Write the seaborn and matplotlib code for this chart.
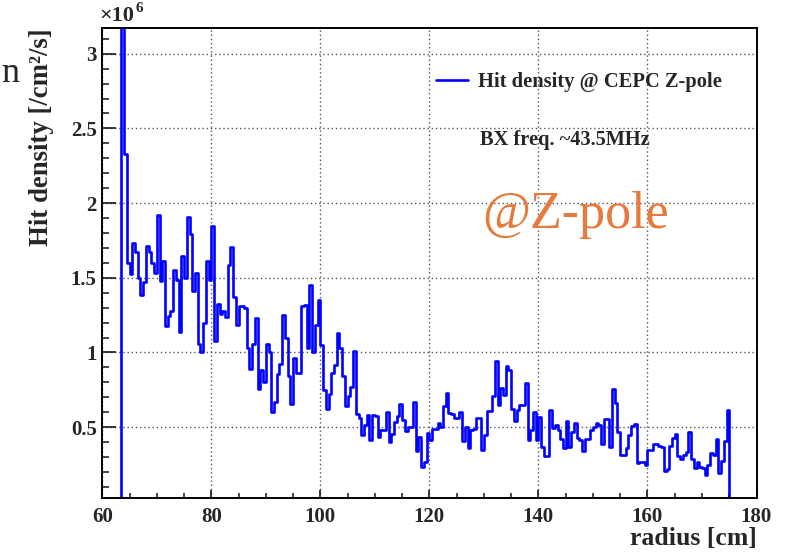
import numpy as np
import pandas as pd
import matplotlib
matplotlib.use("Agg")
import matplotlib.pyplot as plt
import seaborn as sns
from matplotlib.ticker import MultipleLocator

# ---- data (hit density in units of 1e6 /cm^2/s, 0.5 cm bins from 63.5 to 175 cm) ----
bin_start = 63.5
bin_width = 0.5
hit_density = [
    3.40, 2.33, 1.60, 1.525, 1.73, 1.675, 1.50, 1.385, 1.47, 1.715,
    1.675, 1.60, 1.53, 1.92, 1.48, 1.61, 1.18, 1.245, 1.28, 1.555,
    1.485, 1.14, 1.645, 1.50, 1.91, 1.79, 1.41, 1.53, 1.06, 1.005,
    1.195, 1.61, 1.485, 1.845, 1.08, 1.325, 1.255, 1.275, 1.24, 1.585,
    1.705, 1.37, 1.185, 1.31, 1.31, 1.295, 1.03, 0.89, 1.06, 1.23,
    0.755, 0.88, 0.80, 1.06, 1.005, 0.605, 0.67, 0.855, 0.92, 1.25,
    1.095, 0.84, 0.655, 0.96, 0.86, 0.86, 1.31, 1.32, 1.03, 1.45,
    1.00, 1.185, 1.35, 1.05, 0.75, 0.625, 0.72, 0.86, 0.915, 1.13,
    1.03, 0.845, 0.64, 0.71, 0.77, 1.01, 0.59, 0.56, 0.445, 0.515,
    0.58, 0.415, 0.58, 0.575, 0.435, 0.48, 0.48, 0.60, 0.40, 0.455,
    0.535, 0.575, 0.655, 0.545, 0.475, 0.50, 0.50, 0.67, 0.34, 0.435,
    0.235, 0.27, 0.46, 0.415, 0.49, 0.49, 0.53, 0.50, 0.645, 0.73,
    0.595, 0.59, 0.56, 0.56, 0.60, 0.41, 0.50, 0.36, 0.48, 0.49,
    0.56, 0.56, 0.345, 0.45, 0.61, 0.61, 0.71, 0.945, 0.65, 0.76,
    0.715, 0.91, 0.88, 0.625, 0.54, 0.615, 0.65, 0.65, 0.795, 0.415,
    0.48, 0.605, 0.415, 0.565, 0.365, 0.305, 0.305, 0.615, 0.495, 0.515,
    0.48, 0.42, 0.36, 0.54, 0.365, 0.47, 0.525, 0.425, 0.415, 0.34,
    0.42, 0.42, 0.48, 0.50, 0.525, 0.515, 0.39, 0.555, 0.555, 0.37,
    0.755, 0.665, 0.465, 0.315, 0.315, 0.36, 0.45, 0.51, 0.52, 0.26,
    0.27, 0.27, 0.25, 0.35, 0.35, 0.39, 0.39, 0.375, 0.37, 0.21,
    0.22, 0.375, 0.425, 0.455, 0.305, 0.29, 0.315, 0.335, 0.465, 0.29,
    0.225, 0.27, 0.235, 0.23, 0.18, 0.25, 0.325, 0.315, 0.42, 0.195,
    0.275, 0.405, 0.615,
]
legend_label = "Hit density @ CEPC Z-pole"
note_text = "BX freq. ~43.5MHz"
tag_text = "@Z-pole"
x_label = "radius [cm]"
y_label = "Hit density [/cm\u00b2/s]"

# ---- build outline of the histogram (ROOT-like, closed to the baseline at both ends) ----
n = len(hit_density)
edges = bin_start + bin_width * np.arange(n + 1)
xs = [edges[0]] + list(edges[:-1]) + [edges[-1], edges[-1]]
ys = [0.0] + list(hit_density) + [hit_density[-1], 0.0]
df = pd.DataFrame({"radius": xs, "density": ys})

sns.set_theme(style="white")
plt.rcParams["font.family"] = ["Liberation Serif", "DejaVu Serif"]
plt.rcParams["font.weight"] = "bold"

fig = plt.figure(figsize=(8.0, 5.54), dpi=100)
ax = fig.add_axes([102.3 / 800, 1 - 498.3 / 554, (756.5 - 102.3) / 800, (498.3 - 28.3) / 554])

sns.lineplot(data=df, x="radius", y="density", sort=False, estimator=None,
             drawstyle="steps-post", color="#0000ff", linewidth=1.9, ax=ax,
             label=legend_label, legend=False)

ax.set_xlim(60, 180)
ax.set_ylim(0.024, 3.17)
ax.xaxis.set_major_locator(MultipleLocator(20))
ax.xaxis.set_minor_locator(MultipleLocator(5))
ax.yaxis.set_major_locator(MultipleLocator(0.5))
ax.yaxis.set_minor_locator(MultipleLocator(0.1))
ax.set_yticks([0.5, 1.0, 1.5, 2.0, 2.5, 3.0])
ax.set_yticklabels(["0.5", "1", "1.5", "2", "2.5", "3"])
ax.set_xticks([60, 80, 100, 120, 140, 160, 180])
ax.set_xticklabels(["60", "80", "100", "120", "140", "160", "180"])
ax.set_xlabel("")
ax.set_ylabel("")

ax.grid(True, which="major", color="#555555", linestyle=(0, (1, 2)), linewidth=1.0)
ax.tick_params(axis="x", which="major", direction="in", length=6, width=1.3,
               bottom=True, top=False, labelsize=15, pad=6)
ax.tick_params(axis="x", which="minor", direction="in", length=3.5, width=1.2,
               bottom=True, top=False)
ax.tick_params(axis="y", which="major", direction="in", length=10, width=1.3,
               left=True, right=False, labelsize=15, pad=4)
ax.tick_params(axis="y", which="minor", direction="in", length=5, width=1.2,
               left=True, right=False)
for lab in ax.get_xticklabels() + ax.get_yticklabels():
    lab.set_fontweight("bold")
for sp in ax.spines.values():
    sp.set_visible(True)
    sp.set_color("black")
    sp.set_linewidth(1.4)

# legend
handles, labels = ax.get_legend_handles_labels()
leg = ax.legend(handles=handles, labels=labels, loc="center left",
                bbox_to_anchor=(436 / 800, 1 - 82 / 554), bbox_transform=fig.transFigure,
                frameon=False, handlelength=1.55, handletextpad=0.5, borderpad=0,
                borderaxespad=0, prop={"family": "Liberation Serif", "weight": "bold", "size": 14.8})
leg.get_lines()[0].set_linewidth(1.9)

fig.text(480 / 800, 1 - 140 / 554, note_text, ha="left", va="center",
         fontsize=14.7, fontweight="bold", family="Liberation Serif")
fig.text(482 / 800, 1 - 215 / 554, tag_text, ha="left", va="center",
         fontsize=37.5, fontweight="normal", family="Liberation Serif", color="#E67A3C")

# axis titles (ROOT style)
fig.text(757 / 800, 1 - 538 / 554, x_label, ha="right", va="center",
         fontsize=18.5, fontweight="bold", family="Liberation Serif")
fig.text(42 / 800, 1 - 28 / 554, y_label, ha="center", va="top", rotation=90,
         fontsize=19.3, fontweight="bold", family="Liberation Serif")

# exponent label
fig.text(99 / 800, 1 - 16 / 554, "\u00d710", ha="left", va="center",
         fontsize=16, fontweight="bold", family="Liberation Serif")
fig.text(135 / 800, 1 - 9 / 554, "6", ha="left", va="center",
         fontsize=11, fontweight="bold", family="Liberation Serif")

# fragment of slide text at the far left
fig.text(0.002, 1 - 74 / 554, "n", ha="left", va="center",
         fontsize=26, fontweight="normal", family="Liberation Serif")

fig.savefig("out.png", dpi=100)
